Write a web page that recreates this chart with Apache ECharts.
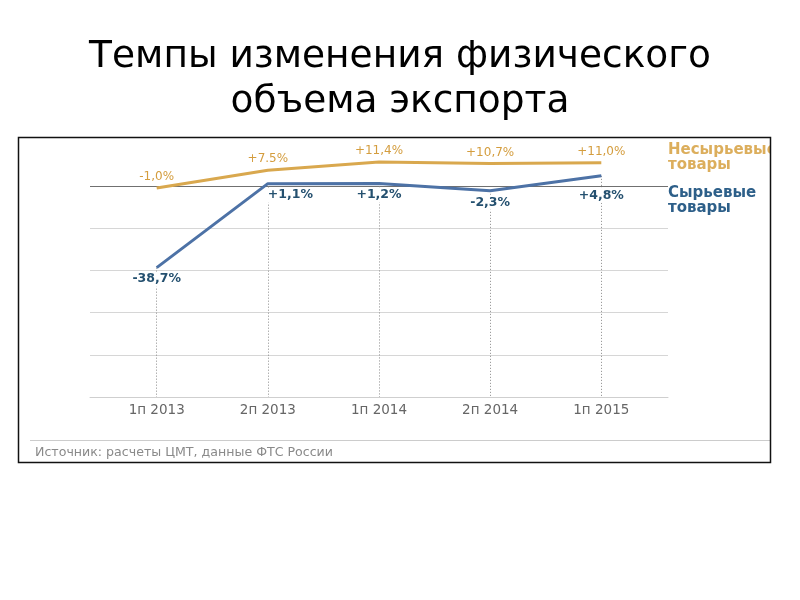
<!DOCTYPE html>
<html>
<head>
<meta charset="utf-8">
<script src="https://cdn.jsdelivr.net/npm/echarts@6/dist/echarts.min.js"></script>
<style>
html, body { margin: 0; padding: 0; background: #fff; }
#chart { width: 800px; height: 600px; }
</style>
</head>
<body>
<div id="chart"></div>
<script>
// периоды
var periods = ['1п 2013', '2п 2013', '1п 2014', '2п 2014', '1п 2015'];
// несырьевые товары, %
var nonRawValues = [-1.0, 7.5, 11.4, 10.7, 11.0];
var nonRawLabels = ['-1,0%', '+7.5%', '+11,4%', '+10,7%', '+11,0%'];
// сырьевые товары, %
var rawValues = [-38.7, 1.1, 1.2, -2.3, 4.8];
var rawLabels = ['-38,7%', '+1,1%', '+1,2%', '-2,3%', '+4,8%'];

var FONT = 'DejaVu Sans';
var ORANGE = '#d9a84e';
var BLUE = '#4d72a6';

var chart = echarts.init(document.getElementById('chart'));

var nonRawData = nonRawValues.map(function (v, i) {
    return { value: [i, v], label: { formatter: nonRawLabels[i] } };
});
var rawData = rawValues.map(function (v, i) {
    var item = { value: [i, v], label: { formatter: rawLabels[i] } };
    if (i === 1) {
        item.label.align = 'left';
        item.label.offset = [-2, 0];
    }
    if (i === 4) {
        // подпись ниже нулевой линии
        item.label.offset = [0, 8];
    }
    return item;
});
var dropLines = rawValues.map(function (v, i) {
    return [{ coord: [i, v] }, { coord: [i, -100] }];
});

chart.setOption({
    animation: false,
    backgroundColor: '#fff',
    title: {
        text: 'Темпы изменения физического\nобъема экспорта',
        left: 'center',
        top: 30,
        textStyle: {
            fontFamily: FONT,
            fontSize: 37.5,
            fontWeight: 'normal',
            color: '#000',
            lineHeight: 45
        }
    },
    grid: { left: 90, right: 132, top: 148, bottom: 203 },
    xAxis: {
        type: 'value',
        min: -0.6,
        max: 4.6,
        axisLine: { show: true, onZero: false, lineStyle: { color: '#cfcfcf' } },
        axisTick: { show: false },
        splitLine: { show: false },
        axisLabel: {
            customValues: [0, 1, 2, 3, 4],
            formatter: function (v) { return periods[Math.round(v)]; },
            fontFamily: FONT,
            fontSize: 13.5,
            color: '#666',
            margin: 6
        }
    },
    yAxis: {
        type: 'value',
        min: -100,
        max: 18,
        interval: 20,
        axisLine: { show: false },
        axisTick: { show: false },
        axisLabel: { show: false },
        splitLine: {
            show: true,
            showMaxLine: false,
            lineStyle: {
                color: ['#d6d6d6', '#d6d6d6', '#d6d6d6', '#d6d6d6', '#d6d6d6', '#707070'],
                width: 1
            }
        }
    },
    series: [
        {
            name: 'Сырьевые товары',
            type: 'line',
            data: rawData,
            symbol: 'circle',
            symbolSize: 0,
            showSymbol: true,
            z: 3,
            itemStyle: { color: BLUE },
            lineStyle: { color: BLUE, width: 3 },
            label: {
                show: true,
                position: 'bottom',
                distance: 4,
                fontFamily: FONT,
                fontSize: 12.5,
                fontWeight: 'bold',
                color: '#24506f',
                backgroundColor: '#fff',
                padding: [1, 2]
            },
            markLine: {
                silent: true,
                symbol: ['none', 'none'],
                label: { show: false },
                lineStyle: { type: [1, 2], color: '#8a8a8a', width: 1 },
                data: dropLines,
                z: 1
            }
        },
        {
            name: 'Несырьевые товары',
            type: 'line',
            data: nonRawData,
            symbol: 'circle',
            symbolSize: 0,
            showSymbol: true,
            z: 4,
            itemStyle: { color: ORANGE },
            lineStyle: { color: ORANGE, width: 3 },
            label: {
                show: true,
                position: 'top',
                distance: 5,
                fontFamily: FONT,
                fontSize: 12,
                color: '#d49d3e'
            }
        }
    ],
    graphic: [
        {
            type: 'text',
            left: 668,
            top: 142,
            z: 10,
            style: {
                text: 'Несырьевые\nтовары',
                font: 'bold 15px "DejaVu Sans"',
                lineHeight: 15.5,
                fill: '#dcae5c'
            }
        },
        {
            type: 'text',
            left: 668,
            top: 185,
            z: 10,
            style: {
                text: 'Сырьевые\nтовары',
                font: 'bold 15px "DejaVu Sans"',
                lineHeight: 15.5,
                fill: '#2d5f89'
            }
        },
        {
            type: 'rect',
            left: 771,
            top: 130,
            z: 20,
            shape: { width: 29, height: 340 },
            style: { fill: '#fff' }
        },
        {
            type: 'line',
            z: 21,
            shape: { x1: 30, y1: 440.5, x2: 770, y2: 440.5 },
            style: { stroke: '#cccccc', lineWidth: 1 }
        },
        {
            type: 'text',
            left: 35,
            top: 446,
            z: 21,
            style: {
                text: 'Источник: расчеты ЦМТ, данные ФТС России',
                font: '12.6px "DejaVu Sans"',
                fill: '#8a8a8a'
            }
        },
        {
            type: 'rect',
            z: 22,
            shape: { x: 18.5, y: 137.5, width: 752, height: 325 },
            style: { fill: 'none', stroke: '#111', lineWidth: 1.5 }
        }
    ]
});
</script>
</body>
</html>
